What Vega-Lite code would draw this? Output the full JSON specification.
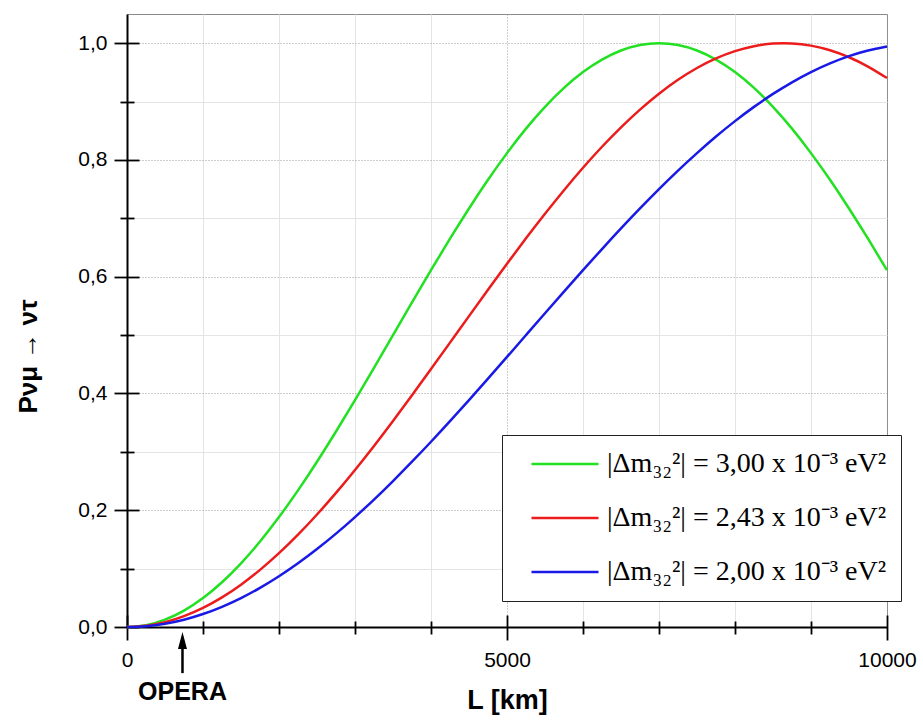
{
  "$schema": "https://vega.github.io/schema/vega-lite/v6.json",
  "width": 760,
  "height": 613,
  "autosize": {"type": "none"},
  "padding": {"left": 127, "top": 14, "right": 36, "bottom": 93},
  "background": "white",
  "config": {
    "font": "Liberation Sans",
    "view": {"stroke": "#8a8a8a", "strokeWidth": 1},
    "axis": {"labelColor": "black", "titleColor": "black"}
  },
  "datasets": {
    "curves": [
      {"L":0,"P":0,"s":"3,00"},{"L":250,"P":0.0031,"s":"3,00"},{"L":500,"P":0.0125,"s":"3,00"},{"L":750,"P":0.0281,"s":"3,00"},{"L":1000,"P":0.0495,"s":"3,00"},{"L":1250,"P":0.0766,"s":"3,00"},{"L":1500,"P":0.1091,"s":"3,00"},{"L":1750,"P":0.1464,"s":"3,00"},{"L":2000,"P":0.1883,"s":"3,00"},{"L":2250,"P":0.2340,"s":"3,00"},{"L":2500,"P":0.2831,"s":"3,00"},{"L":2750,"P":0.3349,"s":"3,00"},{"L":3000,"P":0.3887,"s":"3,00"},{"L":3250,"P":0.4440,"s":"3,00"},{"L":3500,"P":0.5,"s":"3,00"},{"L":3750,"P":0.5560,"s":"3,00"},{"L":4000,"P":0.6113,"s":"3,00"},{"L":4250,"P":0.6651,"s":"3,00"},{"L":4500,"P":0.7169,"s":"3,00"},{"L":4750,"P":0.7660,"s":"3,00"},{"L":5000,"P":0.8117,"s":"3,00"},{"L":5250,"P":0.8536,"s":"3,00"},{"L":5500,"P":0.8909,"s":"3,00"},{"L":5750,"P":0.9234,"s":"3,00"},{"L":6000,"P":0.9505,"s":"3,00"},{"L":6250,"P":0.9719,"s":"3,00"},{"L":6500,"P":0.9875,"s":"3,00"},{"L":6750,"P":0.9969,"s":"3,00"},{"L":7000,"P":1.0,"s":"3,00"},{"L":7250,"P":0.9969,"s":"3,00"},{"L":7500,"P":0.9875,"s":"3,00"},{"L":7750,"P":0.9719,"s":"3,00"},{"L":8000,"P":0.9505,"s":"3,00"},{"L":8250,"P":0.9234,"s":"3,00"},{"L":8500,"P":0.8909,"s":"3,00"},{"L":8750,"P":0.8536,"s":"3,00"},{"L":9000,"P":0.8117,"s":"3,00"},{"L":9250,"P":0.7660,"s":"3,00"},{"L":9500,"P":0.7169,"s":"3,00"},{"L":9750,"P":0.6651,"s":"3,00"},{"L":10000,"P":0.6113,"s":"3,00"},
      {"L":0,"P":0,"s":"2,43"},{"L":250,"P":0.0021,"s":"2,43"},{"L":500,"P":0.0082,"s":"2,43"},{"L":750,"P":0.0185,"s":"2,43"},{"L":1000,"P":0.0327,"s":"2,43"},{"L":1250,"P":0.0507,"s":"2,43"},{"L":1500,"P":0.0725,"s":"2,43"},{"L":1750,"P":0.0978,"s":"2,43"},{"L":2000,"P":0.1264,"s":"2,43"},{"L":2250,"P":0.1581,"s":"2,43"},{"L":2500,"P":0.1927,"s":"2,43"},{"L":2750,"P":0.2297,"s":"2,43"},{"L":3000,"P":0.2690,"s":"2,43"},{"L":3250,"P":0.3102,"s":"2,43"},{"L":3500,"P":0.3530,"s":"2,43"},{"L":3750,"P":0.3970,"s":"2,43"},{"L":4000,"P":0.4418,"s":"2,43"},{"L":4250,"P":0.4871,"s":"2,43"},{"L":4500,"P":0.5325,"s":"2,43"},{"L":4750,"P":0.5777,"s":"2,43"},{"L":5000,"P":0.6222,"s":"2,43"},{"L":5250,"P":0.6657,"s":"2,43"},{"L":5500,"P":0.7078,"s":"2,43"},{"L":5750,"P":0.7482,"s":"2,43"},{"L":6000,"P":0.7866,"s":"2,43"},{"L":6250,"P":0.8226,"s":"2,43"},{"L":6500,"P":0.8559,"s":"2,43"},{"L":6750,"P":0.8863,"s":"2,43"},{"L":7000,"P":0.9135,"s":"2,43"},{"L":7250,"P":0.9373,"s":"2,43"},{"L":7500,"P":0.9575,"s":"2,43"},{"L":7750,"P":0.9739,"s":"2,43"},{"L":8000,"P":0.9864,"s":"2,43"},{"L":8250,"P":0.9949,"s":"2,43"},{"L":8500,"P":0.9993,"s":"2,43"},{"L":8750,"P":0.9996,"s":"2,43"},{"L":9000,"P":0.9958,"s":"2,43"},{"L":9250,"P":0.9878,"s":"2,43"},{"L":9500,"P":0.9759,"s":"2,43"},{"L":9750,"P":0.9600,"s":"2,43"},{"L":10000,"P":0.9403,"s":"2,43"},
      {"L":0,"P":0,"s":"2,00"},{"L":250,"P":0.0014,"s":"2,00"},{"L":500,"P":0.0056,"s":"2,00"},{"L":750,"P":0.0125,"s":"2,00"},{"L":1000,"P":0.0222,"s":"2,00"},{"L":1250,"P":0.0346,"s":"2,00"},{"L":1500,"P":0.0495,"s":"2,00"},{"L":1750,"P":0.0670,"s":"2,00"},{"L":2000,"P":0.0869,"s":"2,00"},{"L":2250,"P":0.1091,"s":"2,00"},{"L":2500,"P":0.1335,"s":"2,00"},{"L":2750,"P":0.1599,"s":"2,00"},{"L":3000,"P":0.1883,"s":"2,00"},{"L":3250,"P":0.2183,"s":"2,00"},{"L":3500,"P":0.25,"s":"2,00"},{"L":3750,"P":0.2831,"s":"2,00"},{"L":4000,"P":0.3173,"s":"2,00"},{"L":4250,"P":0.3526,"s":"2,00"},{"L":4500,"P":0.3887,"s":"2,00"},{"L":4750,"P":0.4255,"s":"2,00"},{"L":5000,"P":0.4626,"s":"2,00"},{"L":5250,"P":0.5,"s":"2,00"},{"L":5500,"P":0.5374,"s":"2,00"},{"L":5750,"P":0.5745,"s":"2,00"},{"L":6000,"P":0.6113,"s":"2,00"},{"L":6250,"P":0.6474,"s":"2,00"},{"L":6500,"P":0.6827,"s":"2,00"},{"L":6750,"P":0.7169,"s":"2,00"},{"L":7000,"P":0.75,"s":"2,00"},{"L":7250,"P":0.7817,"s":"2,00"},{"L":7500,"P":0.8117,"s":"2,00"},{"L":7750,"P":0.8401,"s":"2,00"},{"L":8000,"P":0.8665,"s":"2,00"},{"L":8250,"P":0.8909,"s":"2,00"},{"L":8500,"P":0.9131,"s":"2,00"},{"L":8750,"P":0.9330,"s":"2,00"},{"L":9000,"P":0.9505,"s":"2,00"},{"L":9250,"P":0.9654,"s":"2,00"},{"L":9500,"P":0.9778,"s":"2,00"},{"L":9750,"P":0.9875,"s":"2,00"},{"L":10000,"P":0.9944,"s":"2,00"}
    ],
    "origin": [{"L":0,"P":0}],
    "opera": [{"L":730,"P":-0.036,"P2":-0.079,"tip":-0.0231,"ty":-0.111,"name":"OPERA"}]
  },
  "resolve": {"axis": {"x": "independent", "y": "independent"}},
  "layer": [
    {
      "data": {"name": "origin"},
      "mark": {"type": "point", "opacity": 0},
      "encoding": {
        "x": {"field": "L", "type": "quantitative", "scale": {"domain": [0, 10000], "nice": false},
          "axis": {"orient": "bottom", "values": [0,1000,2000,3000,4000,5000,6000,7000,8000,9000,10000], "grid": true, "ticks": false, "labels": false, "domain": false, "title": null,
            "gridColor": {"condition": {"test": "datum.value % 5000 === 0", "value": "#9a9a9a"}, "value": "#e4e4e4"},
            "gridDash": {"condition": {"test": "datum.value % 5000 === 0", "value": [1, 2]}, "value": []},
            "gridWidth": 1}},
        "y": {"field": "P", "type": "quantitative", "scale": {"domain": [0, 1.05], "nice": false, "zero": false},
          "axis": {"orient": "left", "values": [0,0.1,0.2,0.3,0.4,0.5,0.6,0.7,0.8,0.9,1.0], "grid": true, "ticks": false, "labels": false, "domain": false, "title": null,
            "gridColor": {"condition": {"test": "round(datum.value*10) % 2 === 0", "value": "#9a9a9a"}, "value": "#e4e4e4"},
            "gridDash": {"condition": {"test": "round(datum.value*10) % 2 === 0", "value": [1, 2]}, "value": []},
            "gridWidth": 1}}
      }
    },
    {
      "data": {"name": "curves"},
      "mark": {"type": "line", "strokeWidth": 2.5, "interpolate": "natural"},
      "encoding": {
        "x": {"field": "L", "type": "quantitative", "scale": {"domain": [0, 10000], "nice": false},
          "axis": {"orient": "bottom", "values": [0, 5000, 10000], "format": "d", "grid": false, "ticks": false, "domain": true, "domainColor": "black", "domainWidth": 2,
            "labelFontSize": 21, "labelPadding": 22, "labelFlush": false,
            "title": "L [km]", "titleFontSize": 27, "titleFontWeight": "bold", "titlePadding": 17}},
        "y": {"field": "P", "type": "quantitative", "scale": {"domain": [0, 1.05], "nice": false, "zero": false},
          "axis": {"orient": "left", "values": [0,0.2,0.4,0.6,0.8,1.0], "grid": false, "ticks": false, "domain": true, "domainColor": "black", "domainWidth": 2,
            "labelExpr": "replace(format(datum.value, '.1f'), '.', ',')",
            "labelFontSize": 21, "labelPadding": 20, "labelFlush": false,
            "title": "Pνμ → ντ", "titleFontSize": 26, "titleFontWeight": "bold", "titleX": -99, "titleY": 342, "titleBaseline": "middle", "titleAlign": "center", "titleAngle": 270}},
        "color": {"field": "s", "type": "nominal",
          "scale": {"domain": ["3,00", "2,43", "2,00"], "range": ["#22e022", "#ec1c1c", "#1a1ae6"]},
          "legend": {"orient": "none", "legendX": 375, "legendY": 421, "title": null,
            "fillColor": "white", "strokeColor": "#222222", "padding": 14,
            "symbolType": "stroke", "symbolSize": 4489, "symbolStrokeWidth": 2.5, "symbolOffset": 14,
            "clipHeight": 30,
            "labelOffset": 7, "labelFont": "Liberation Serif", "labelFontSize": 28, "labelColor": "black", "labelLimit": 450,
            "rowPadding": 24,
            "labelExpr": "'|Δm₃₂²| = ' + datum.label + ' x 10⁻³ eV²'"}}
      }
    },
    {
      "data": {"name": "origin"},
      "mark": {"type": "point", "opacity": 0},
      "encoding": {
        "x": {"field": "L", "type": "quantitative", "scale": {"domain": [0, 10000], "nice": false},
          "axis": {"orient": "bottom", "offset": -12, "values": [0, 5000, 10000], "grid": false, "labels": false, "domain": false, "title": null,
            "ticks": true, "tickSize": 25, "tickWidth": 1.8, "tickColor": "black"}},
        "y": {"field": "P", "type": "quantitative", "scale": {"domain": [0, 1.05], "nice": false, "zero": false},
          "axis": {"orient": "left", "offset": -12, "values": [0,0.2,0.4,0.6,0.8,1.0], "grid": false, "labels": false, "domain": false, "title": null,
            "ticks": true, "tickSize": 25, "tickWidth": 1.8, "tickColor": "black"}}
      }
    },
    {
      "data": {"name": "origin"},
      "mark": {"type": "point", "opacity": 0},
      "encoding": {
        "x": {"field": "L", "type": "quantitative", "scale": {"domain": [0, 10000], "nice": false},
          "axis": {"orient": "bottom", "offset": -6, "values": [1000,2000,3000,4000,6000,7000,8000,9000], "grid": false, "labels": false, "domain": false, "title": null,
            "ticks": true, "tickSize": 13, "tickWidth": 1.8, "tickColor": "black"}},
        "y": {"field": "P", "type": "quantitative", "scale": {"domain": [0, 1.05], "nice": false, "zero": false},
          "axis": {"orient": "left", "offset": -7, "values": [0.1,0.3,0.5,0.7,0.9], "grid": false, "labels": false, "domain": false, "title": null,
            "ticks": true, "tickSize": 14, "tickWidth": 1.8, "tickColor": "black"}}
      }
    },
    {
      "data": {"name": "opera"},
      "mark": {"type": "rule", "strokeWidth": 2.5, "color": "black"},
      "encoding": {
        "x": {"field": "L", "type": "quantitative", "scale": {"domain": [0, 10000], "nice": false}, "axis": null},
        "y": {"field": "P", "type": "quantitative", "scale": {"domain": [0, 1.05], "nice": false, "zero": false}, "axis": null},
        "y2": {"field": "P2"}
      }
    },
    {
      "data": {"name": "opera"},
      "mark": {"type": "point", "shape": "M0,-1L0.53,1L-0.53,1Z", "size": 289, "filled": true, "color": "black", "opacity": 1, "strokeWidth": 0},
      "encoding": {
        "x": {"field": "L", "type": "quantitative", "scale": {"domain": [0, 10000], "nice": false}, "axis": null},
        "y": {"field": "tip", "type": "quantitative", "scale": {"domain": [0, 1.05], "nice": false, "zero": false}, "axis": null}
      }
    },
    {
      "data": {"name": "opera"},
      "mark": {"type": "text", "fontSize": 25, "fontWeight": "bold", "font": "Liberation Sans", "color": "black", "baseline": "middle", "align": "center"},
      "encoding": {
        "x": {"field": "L", "type": "quantitative", "scale": {"domain": [0, 10000], "nice": false}, "axis": null},
        "y": {"field": "ty", "type": "quantitative", "scale": {"domain": [0, 1.05], "nice": false, "zero": false}, "axis": null},
        "text": {"field": "name"}
      }
    }
  ]
}
